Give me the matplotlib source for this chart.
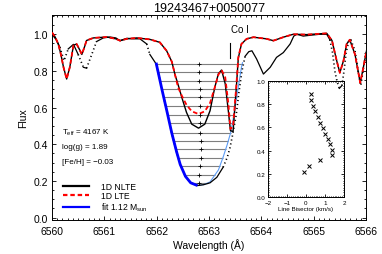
import numpy as np
import matplotlib
matplotlib.use("Agg")
import matplotlib.pyplot as plt
from matplotlib.ticker import MultipleLocator

plt.rcParams["font.family"] = ["Liberation Sans", "DejaVu Sans"]
plt.rcParams["mathtext.fontset"] = "custom"
plt.rcParams["mathtext.rm"] = "Liberation Sans"
plt.rcParams["mathtext.it"] = "Liberation Sans:italic"

# ------------------------------------------------------------------ #
#  Data
# ------------------------------------------------------------------ #

STAR = "19243467+0050077"
PARAMS = ["T$_\\mathrm{eff}$ = 4167 K", "log(g) = 1.89", "[Fe/H] = \u22120.03"]

# observed spectrum (black dots)
obs_wave = [6560.00, 6560.08, 6560.15, 6560.23, 6560.31, 6560.41, 6560.50, 6560.60,
            6560.66, 6560.76, 6560.85, 6560.98, 6561.11, 6561.22, 6561.30, 6561.43,
            6561.55, 6561.68, 6561.81, 6561.87, 6561.97, 6562.00, 6562.10, 6562.20,
            6562.29, 6562.38, 6562.45, 6562.55, 6562.65, 6562.78, 6562.90, 6563.02,
            6563.15, 6563.27, 6563.35, 6563.40, 6563.45, 6563.52, 6563.57, 6563.63,
            6563.69, 6563.76, 6563.82, 6563.91, 6564.04, 6564.17, 6564.29, 6564.42,
            6564.55, 6564.62, 6564.68, 6564.80, 6564.95, 6565.12, 6565.25, 6565.31,
            6565.36, 6565.41, 6565.45, 6565.49, 6565.54, 6565.58, 6565.62, 6565.67,
            6565.71, 6565.79, 6565.85, 6565.90, 6565.96, 6566.00]
obs_flux = [1.000, 0.970, 0.930, 0.856, 0.920, 0.945, 0.890, 0.820,
            0.815, 0.890, 0.960, 0.980, 0.985, 0.980, 0.965, 0.978,
            0.975, 0.975, 0.947, 0.890, 0.847, 0.830, 0.700, 0.575,
            0.460, 0.360, 0.290, 0.225, 0.190, 0.175, 0.180, 0.190,
            0.220, 0.275, 0.330, 0.380, 0.450, 0.560, 0.680, 0.800,
            0.880, 0.905, 0.910, 0.865, 0.783, 0.820, 0.874, 0.900,
            0.947, 0.990, 1.000, 0.990, 0.995, 1.000, 1.000, 0.970,
            0.900, 0.790, 0.740, 0.705, 0.720, 0.800, 0.900, 0.960,
            0.970, 0.910, 0.800, 0.720, 0.830, 0.900]

# synthetic spectra (1D NLTE solid black, 1D LTE dashed red)
model_wave = [6560.00, 6560.06, 6560.12, 6560.17, 6560.22, 6560.28, 6560.34, 6560.41,
              6560.47, 6560.52, 6560.57, 6560.62, 6560.66, 6560.79, 6561.05, 6561.22,
              6561.30, 6561.43, 6561.62, 6561.87, 6562.06, 6562.19, 6562.29, 6562.35,
              6562.41, 6562.48, 6562.57, 6562.67, 6562.80, 6562.92, 6563.02, 6563.11,
              6563.18, 6563.24, 6563.31, 6563.37, 6563.41, 6563.46, 6563.52, 6563.56,
              6563.62, 6563.72, 6563.85, 6564.10, 6564.23, 6564.42, 6564.61, 6564.87,
              6565.25, 6565.35, 6565.44, 6565.50, 6565.57, 6565.63, 6565.69, 6565.79,
              6565.89, 6565.95, 6566.01]
lte_flux = [1.010, 0.985, 0.947, 0.890, 0.820, 0.756, 0.820, 0.940,
            0.947, 0.920, 0.890, 0.930, 0.966, 0.980, 0.985, 0.975,
            0.965, 0.975, 0.980, 0.972, 0.956, 0.910, 0.850, 0.780,
            0.710, 0.665, 0.615, 0.580, 0.565, 0.580, 0.625, 0.710,
            0.780, 0.805, 0.765, 0.620, 0.483, 0.500, 0.710, 0.874,
            0.947, 0.975, 0.984, 0.975, 0.965, 0.984, 1.000, 0.998,
            1.005, 0.966, 0.856, 0.790, 0.856, 0.947, 0.970, 0.890,
            0.735, 0.820, 0.910]
nlte_flux = [1.010, 0.985, 0.947, 0.890, 0.820, 0.756, 0.820, 0.940,
             0.947, 0.920, 0.890, 0.930, 0.966, 0.980, 0.985, 0.975,
             0.965, 0.975, 0.980, 0.972, 0.956, 0.910, 0.850, 0.780,
             0.725, 0.656, 0.574, 0.510, 0.488, 0.510, 0.583, 0.710,
             0.785, 0.805, 0.730, 0.580, 0.474, 0.470, 0.700, 0.870,
             0.947, 0.975, 0.984, 0.975, 0.965, 0.984, 1.000, 0.998,
             1.005, 0.966, 0.856, 0.790, 0.856, 0.947, 0.970, 0.890,
             0.735, 0.820, 0.910]

# fitted core profile, blue wing (dark) and red wing (light)
fit_left_wave = [6561.99, 6562.00, 6562.10, 6562.20, 6562.29, 6562.38, 6562.45, 6562.55, 6562.65, 6562.78]
fit_left_flux = [0.845, 0.830, 0.700, 0.575, 0.460, 0.360, 0.290, 0.225, 0.190, 0.175]
fit_right_wave = [6562.78, 6562.90, 6563.02, 6563.18, 6563.27, 6563.35, 6563.42, 6563.47, 6563.53, 6563.62, 6563.64]
fit_right_flux = [0.175, 0.180, 0.195, 0.260, 0.330, 0.400, 0.470, 0.550, 0.660, 0.820, 0.845]
FIT_LABEL = "fit 1.12 M$_\\mathrm{sun}$"

# bisector: levels in the main panel, and flux / velocity in the inset
bis_levels = [0.838, 0.792, 0.747, 0.701, 0.656, 0.607, 0.561, 0.514,
              0.464, 0.419, 0.372, 0.326, 0.280, 0.233, 0.191]
bis_flux = [0.885, 0.838, 0.788, 0.739, 0.692, 0.642, 0.596, 0.546,
            0.502, 0.453, 0.409, 0.359, 0.315, 0.263, 0.219]
bis_vel = [0.25, 0.25, 0.36, 0.48, 0.61, 0.75, 0.89, 1.02,
           1.15, 1.28, 1.36, 1.36, 0.74, 0.15, -0.08]
HALPHA = 6562.81
C_KMS = 299792.458

CO_WAVE = 6563.40

# ------------------------------------------------------------------ #
#  Helpers
# ------------------------------------------------------------------ #

def ticks_in(ax, major, minor, size):
    ax.tick_params(which="both", direction="in", top=True, right=True,
                   width=0.6, labelsize=size)
    ax.tick_params(which="major", length=major)
    ax.tick_params(which="minor", length=minor)
    for s in ax.spines.values():
        s.set_linewidth(0.7)


def draw_sampled(ax, x, y, steep=2.3):
    # dense pixels look solid, steep parts break up into dots
    x = np.asarray(x)
    y = np.asarray(y)
    pts = ax.transData.transform(np.column_stack([x, y]))
    d = np.diff(pts, axis=0)
    is_steep = np.abs(d[:, 1]) > steep * np.abs(d[:, 0])
    start = 0
    n = len(is_steep)
    for i in range(1, n + 1):
        if i == n or is_steep[i] != is_steep[start]:
            sl = slice(start, i + 1)
            if is_steep[start]:
                ax.plot(x[sl], y[sl], color="k", lw=1.2, ls=(0, (0.7, 1.7)), zorder=2)
            else:
                ax.plot(x[sl], y[sl], color="k", lw=0.9, zorder=2)
            start = i

# ------------------------------------------------------------------ #
#  Figure
# ------------------------------------------------------------------ #

fig = plt.figure(figsize=(3.82, 2.55), dpi=100)
ax = fig.add_axes([52 / 382, 1 - 220.5 / 255, 314 / 382, 204.5 / 255])
ax.set_xlim(6560, 6566)
ax.set_ylim(-0.01, 1.105)

# bisector lines across the fitted profile
lv = np.asarray(bis_levels)
left_end = np.interp(lv, fit_left_flux[::-1], fit_left_wave[::-1])
right_end = np.interp(lv, fit_right_flux, fit_right_wave)
ax.hlines(lv, left_end, right_end, color="#7f7f7f", lw=0.8, zorder=1)

ax.plot(fit_right_wave, fit_right_flux, color="#5b9bf5", lw=0.8, zorder=2)
draw_sampled(ax, obs_wave, obs_flux)
ax.plot(fit_left_wave, fit_left_flux, color="#0000ff", lw=2.0, zorder=3,
        solid_capstyle="butt")
ax.plot(model_wave, nlte_flux, color="k", lw=1.0, zorder=4)
ax.plot(model_wave, lte_flux, color="red", lw=1.3, ls=(0, (2.5, 1.5)), zorder=5)

cross_x = HALPHA * (1 + np.asarray(bis_vel) / C_KMS)
ax.plot(cross_x, lv, ls="none", marker="+", ms=3, mew=0.6, color="k", zorder=6)

# Co I marker
ax.plot([CO_WAVE, CO_WAVE], [0.868, 0.955], color="k", lw=0.8)
ax.text(CO_WAVE + 0.02, 1.03, "Co I", fontsize=7, ha="left", va="center")

# stellar parameters
for i, s in enumerate(PARAMS):
    ax.text(0.033, 0.428 - 0.073 * i, s, transform=ax.transAxes,
            fontsize=5.8, ha="left", va="center")

# legend
h1, = ax.plot([], [], color="k", lw=1.6, label="1D NLTE")
h2, = ax.plot([], [], color="red", lw=1.6, ls=(0, (2.0, 1.3)), label="1D LTE")
h3, = ax.plot([], [], color="#0000ff", lw=1.6, label=FIT_LABEL)
ax.legend(handles=[h1, h2, h3], loc="lower left", bbox_to_anchor=(0.035, 0.03),
          frameon=False, fontsize=6.2, handlelength=3.0, handletextpad=1.4,
          labelspacing=0.05, borderpad=0, borderaxespad=0)

ticks_in(ax, 3, 1.5, 7.5)
ax.tick_params(axis="x", pad=5)
ax.tick_params(axis="y", pad=3)
ax.xaxis.set_major_locator(MultipleLocator(1))
ax.xaxis.set_minor_locator(MultipleLocator(0.1))
ax.yaxis.set_major_locator(MultipleLocator(0.2))
ax.yaxis.set_minor_locator(MultipleLocator(0.05))
ax.xaxis.set_major_formatter(matplotlib.ticker.FormatStrFormatter("%d"))
ax.yaxis.set_major_formatter(matplotlib.ticker.FormatStrFormatter("%.1f"))
ax.set_xlabel("Wavelength (\u00c5)", fontsize=7.5, labelpad=1)
ax.set_ylabel("Flux", fontsize=7.5, labelpad=4)
ax.set_title(STAR, fontsize=9, pad=3)

# inset: line bisector
axi = fig.add_axes([268 / 382, 1 - 198 / 255, 76 / 382, 116 / 255])
axi.patch.set_visible(False)
axi.plot(bis_vel, bis_flux, ls="none", marker="x", ms=3.2, mew=0.7, color="k")
axi.set_xlim(-2, 2)
axi.set_ylim(0, 1)
ticks_in(axi, 2, 1, 4.5)
axi.tick_params(pad=2)
axi.xaxis.set_major_locator(MultipleLocator(1))
axi.xaxis.set_minor_locator(MultipleLocator(0.1))
axi.yaxis.set_major_locator(MultipleLocator(0.2))
axi.yaxis.set_minor_locator(MultipleLocator(0.02))
axi.yaxis.set_major_formatter(matplotlib.ticker.FormatStrFormatter("%.1f"))
axi.set_xlabel("Line Bisector (km/s)", fontsize=4.5, labelpad=1)

fig.savefig("out.png", dpi=100)
